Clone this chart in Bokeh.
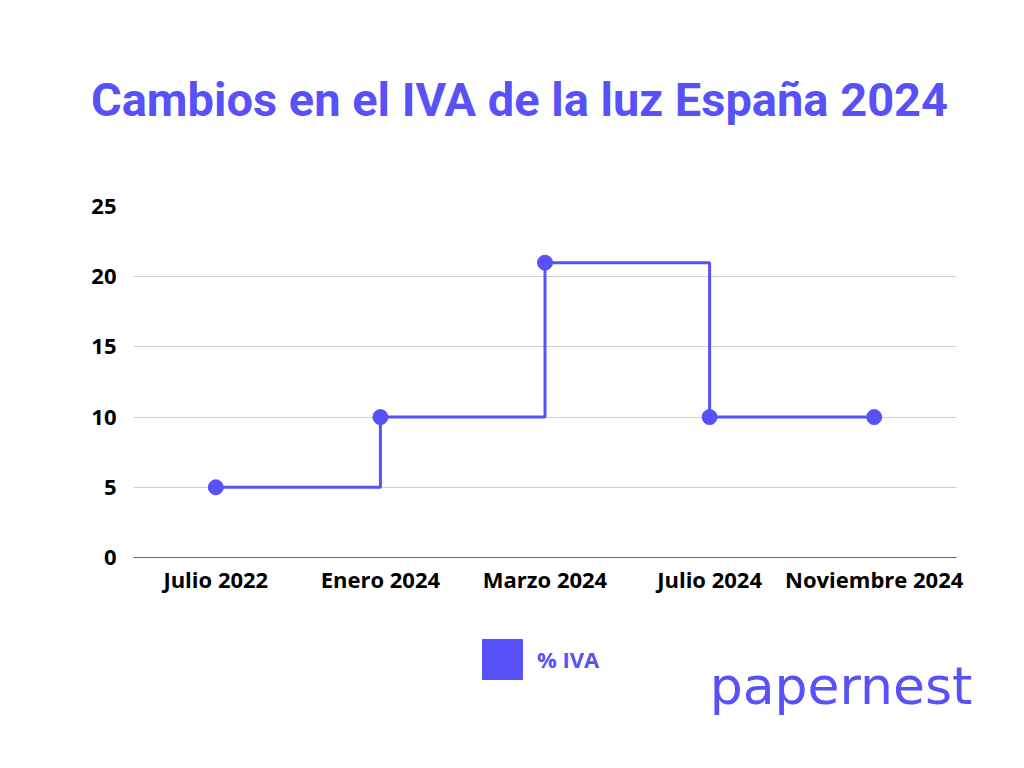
from bokeh.plotting import figure
from bokeh.layouts import column
from bokeh.models import Range1d, FixedTicker, Label, Legend, LegendItem, ColumnDataSource
from bokeh.embed import file_html
from bokeh.resources import INLINE

categories = ["Julio 2022", "Enero 2024", "Marzo 2024", "Julio 2024", "Noviembre 2024"]
iva = [5, 10, 21, 10, 10]
y_ticks = [0, 5, 10, 15, 20, 25]
title_text = "Cambios en el IVA de la luz España 2024"
series_name = "% IVA"
logo_text = "papernest"

PURPLE = "#5851F8"
W = 1008


def blank(h):
    f = figure(width=W, height=h, x_range=Range1d(0, W), y_range=Range1d(0, h),
               output_backend="svg", toolbar_location=None, frame_align=False,
               x_axis_location=None, y_axis_location=None,
               min_border_left=0, min_border_right=0, min_border_top=0, min_border_bottom=0)
    f.outline_line_color = None
    f.xgrid.grid_line_color = None
    f.ygrid.grid_line_color = None
    return f


# ---- title strip ----
top = blank(184)
top.add_layout(Label(x=519, y=85, text=title_text, text_align="center",
                     text_baseline="alphabetic", text_font="Roboto",
                     text_font_style="bold", text_font_size="47px", text_color=PURPLE))

# ---- main chart ----
p = figure(x_range=categories, y_range=Range1d(0, 25), width=W, height=418,
           output_backend="svg", toolbar_location=None, frame_align=False,
           min_border_left=133, min_border_right=52, min_border_top=22, min_border_bottom=45)
p.x_range.range_padding = 0
p.outline_line_color = None

src = ColumnDataSource(dict(x=categories, y=iva))
p.step("x", "y", source=src, mode="after", line_width=3, line_color=PURPLE)
p.scatter("x", "y", source=src, size=15, fill_color=PURPLE, line_color=PURPLE)

p.yaxis.ticker = FixedTicker(ticks=y_ticks)
p.yaxis.axis_line_color = None
p.yaxis.major_tick_line_color = None
p.yaxis.minor_tick_line_color = None
p.yaxis.major_label_standoff = 11
p.yaxis.major_label_text_font = "Open Sans"
p.yaxis.major_label_text_font_style = "bold"
p.yaxis.major_label_text_font_size = "22px"
p.yaxis.major_label_text_color = "black"

p.xaxis.axis_line_color = "#666666"
p.xaxis.axis_line_width = 1
p.xaxis.major_tick_line_color = None
p.xaxis.minor_tick_line_color = None
p.xaxis.major_label_standoff = 0
p.xaxis.major_label_text_font = "Open Sans"
p.xaxis.major_label_text_font_style = "bold"
p.xaxis.major_label_text_font_size = "22px"
p.xaxis.major_label_text_color = "black"

p.xgrid.grid_line_color = None
p.ygrid.grid_line_color = "#CFCFCF"
p.ygrid.grid_line_width = 1

# ---- legend + logo strip ----
bot = blank(150)
# legend proxy renderer (kept outside the visible range)
proxy = bot.quad(left=[-20], right=[-10], top=[-10], bottom=[-20],
                 fill_color=PURPLE, line_color=PURPLE)
legend = Legend(items=[LegendItem(label=series_name, renderers=[proxy])],
                location=(477, 68), glyph_width=50, glyph_height=50,
                label_standoff=10, label_text_font="Open Sans", label_text_font_style="bold",
                label_text_font_size="22px", label_text_color=PURPLE,
                border_line_color=None, background_fill_alpha=0,
                padding=0, margin=0, spacing=0)
bot.add_layout(legend, "center")
bot.add_layout(Label(x=972, y=67, text=logo_text, text_align="right",
                     text_baseline="alphabetic", text_font="DejaVu Sans",
                     text_font_size="52px", text_color=PURPLE))

layout = column(top, p, bot, spacing=0)
open("out.html", "w").write(file_html(layout, INLINE))
